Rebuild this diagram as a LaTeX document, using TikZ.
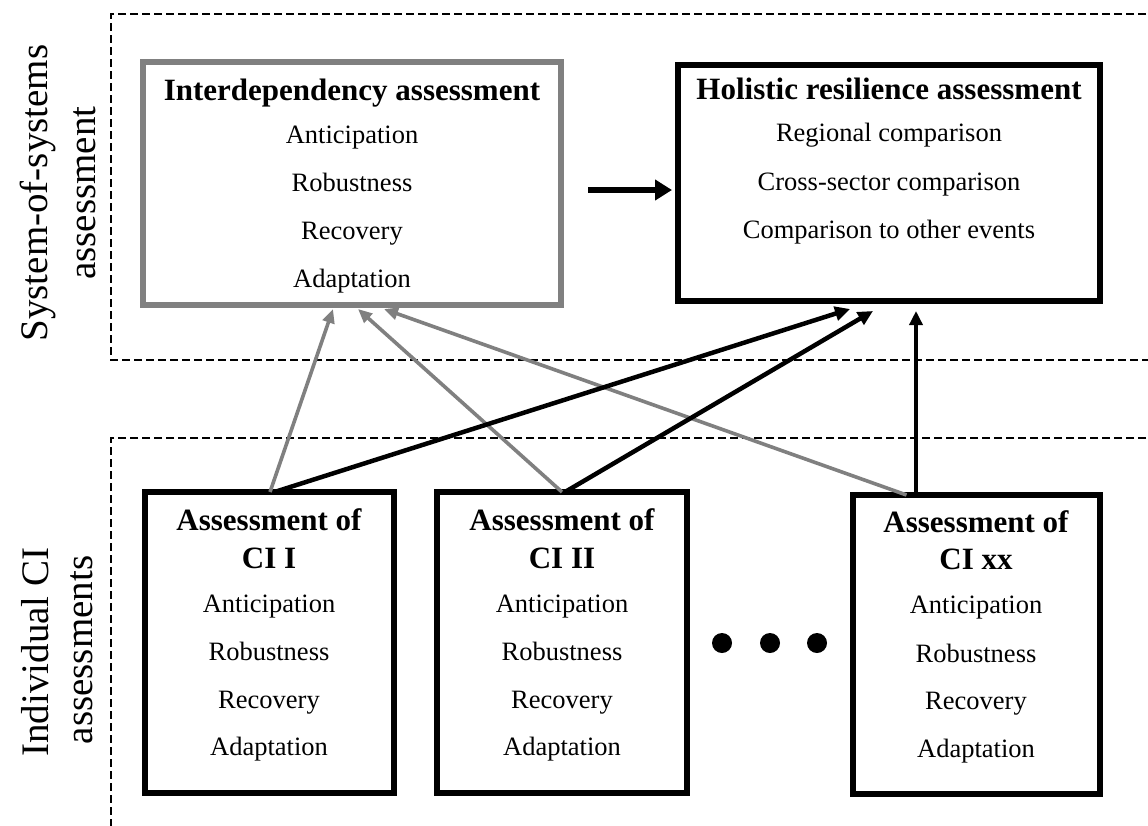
\documentclass[tikz,border=0pt]{standalone}
\usepackage{fontspec}
\setmainfont{Liberation Serif}
\usetikzlibrary{arrows.meta,calc}
\begin{document}
\begin{tikzpicture}[x=1pt,y=-1pt,
  dashline/.style={line width=2.8pt,dash pattern=on 8pt off 4pt},
  bbox/.style={draw=black,line width=5.5pt,inner sep=0pt,outer sep=0pt},
  gbox/.style={draw=gray,line width=5.5pt,inner sep=0pt,outer sep=0pt},
  ttl/.style={anchor=base,inner sep=0pt,font=\fontsize{31}{34}\selectfont\bfseries},
  body/.style={anchor=base,inner sep=0pt,font=\fontsize{26.5}{30}\selectfont},
  side/.style={rotate=90,inner sep=0pt,font=\fontsize{39}{44}\selectfont},
  grayarrow/.style={draw=gray,line width=3.6pt,-{Triangle[length=14pt,width=12pt]}},
  blackarrow/.style={draw=black,line width=4.5pt,-{Triangle[length=15pt,width=14pt]}},
  thinarrow/.style={draw=black,line width=3.4pt,-{Triangle[length=14pt,width=13pt]}},
  bigarrow/.style={draw=black,line width=6pt,-{Triangle[length=17pt,width=20pt]}}]
\useasboundingbox (0,0) rectangle (1148,825);
\fill[white] (0,0) rectangle (1148,825);

% dashed group frames
\draw[dashline] (1170,14) -- (111,14) -- (111,360) -- (1170,360);
\draw[dashline] (1170,438) -- (111,438) -- (111,850);

% side labels
\node[side] (s1) at (38,193) {System-of-systems};
\node[side] (s2) at (85,193) {assessment};
\node[side] (s3) at (35,652) {Individual CI};
\node[side] (s4) at (82,650) {assessments};

% boxes
\node[gbox,minimum width=418pt,minimum height=243pt] (inter) at (352,183.5) {};
\node[bbox,minimum width=422pt,minimum height=236pt] (holi) at (889,183) {};
\node[bbox,minimum width=249pt,minimum height=301pt] (ci1) at (269.5,642.5) {};
\node[bbox,minimum width=250pt,minimum height=301pt] (ci2) at (562,642.5) {};
\node[bbox,minimum width=247pt,minimum height=299pt] (cixx) at (976.5,644.5) {};

% interdependency text
\node[ttl] (it) at (352,100) {Interdependency assessment};
\node[body] (i1) at (352,143) {Anticipation};
\node[body] (i2) at (352,191) {Robustness};
\node[body] (i3) at (352,239) {Recovery};
\node[body] (i4) at (352,287) {Adaptation};

% holistic text
\node[ttl] (ht) at (889,99) {Holistic resilience assessment};
\node[body] (h1) at (889,141) {Regional comparison};
\node[body] (h2) at (889,190) {Cross-sector comparison};
\node[body] (h3) at (889,238) {Comparison to other events};

% CI I
\node[ttl] (a1) at (269,530) {Assessment of};
\node[ttl] (b1) at (269,568) {CI I};
\node[body] (c1) at (269,612) {Anticipation};
\node[body] (d1) at (269,660) {Robustness};
\node[body] (e1) at (269,708) {Recovery};
\node[body] (f1) at (269,755) {Adaptation};

% CI II
\node[ttl] (a2) at (562,530) {Assessment of};
\node[ttl] (b2) at (562,568) {CI II};
\node[body] (c2) at (562,612) {Anticipation};
\node[body] (d2) at (562,660) {Robustness};
\node[body] (e2) at (562,708) {Recovery};
\node[body] (f2) at (562,755) {Adaptation};

% CI xx
\node[ttl] (a3) at (976,532) {Assessment of};
\node[ttl] (b3) at (976,569) {CI xx};
\node[body] (c3) at (976,613) {Anticipation};
\node[body] (d3) at (976,662) {Robustness};
\node[body] (e3) at (976,709) {Recovery};
\node[body] (f3) at (976,757) {Adaptation};

% dots
\fill (722,643) circle (10);
\fill (770,643) circle (10);
\fill (817,643) circle (10);

% connectors
\draw[bigarrow] ($(inter.east)+(27,6.5)$) -- ($(holi.west)+(-6,7)$);
\draw[grayarrow] ($(ci1.north)+(0.5,0)$) -- ($(inter.south)+(-19,4)$);
\draw[grayarrow] (ci2.north) -- ($(inter.south)+(6,4)$);
\draw[grayarrow] ($(cixx.north)+(-70,0)$) -- ($(inter.south)+(32,4)$);
\draw[blackarrow] ($(ci1.north)+(5,0)$) -- ($(holi.south)+(-39,8)$);
\draw[blackarrow] ($(ci2.north)+(3,0)$) -- ($(holi.south)+(-16,10)$);
\draw[thinarrow] ($(cixx.north)+(-60.5,0)$) -- ($(holi.south)+(27,10)$);
\end{tikzpicture}
\end{document}
